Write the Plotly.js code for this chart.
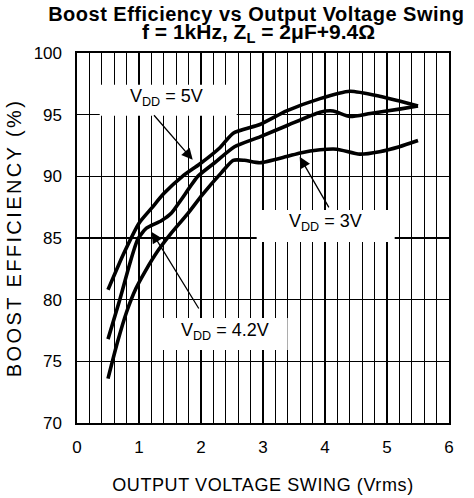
<!DOCTYPE html>
<html>
<head>
<meta charset="utf-8">
<script src="https://cdn.plot.ly/plotly-3.0.1.min.js"></script>
<style>
html,body{margin:0;padding:0;background:#fff;}
#chart .ytitle{letter-spacing:2.4px;}
#chart .xtitle{letter-spacing:0.6px;}
#chart .gtitle{letter-spacing:0.5px;}
</style>
</head>
<body>
<div id="chart" style="width:474px;height:498px;"></div>
<script>
// ---- data ----
const swing5V = [0.5, 0.75, 1.0, 1.2, 1.4, 1.7, 1.98, 2.3, 2.52, 2.95, 3.38, 3.92, 4.4, 4.88, 5.2, 5.5];
const eff5V   = [80.8, 83.7, 86.2, 87.4, 88.6, 90.0, 91.0, 92.3, 93.5, 94.2, 95.3, 96.3, 96.9, 96.5, 96.1, 95.7];

const swing42V = [0.5, 0.69, 0.85, 0.98, 1.12, 1.36, 1.52, 1.68, 1.95, 2.22, 2.54, 2.95, 3.38, 3.92, 4.13, 4.4, 4.73, 5.2, 5.5];
const eff42V   = [76.8, 80.0, 82.9, 84.9, 85.8, 86.4, 87.0, 88.1, 90.0, 91.1, 92.4, 93.2, 94.1, 95.2, 95.3, 94.85, 95.1, 95.45, 95.7];

const swing3V = [0.5, 0.65, 0.8, 0.95, 1.1, 1.31, 1.52, 1.79, 2.02, 2.33, 2.52, 2.7, 2.95, 3.38, 3.6, 3.92, 4.19, 4.56, 4.88, 5.2, 5.5];
const eff3V   = [73.6, 76.5, 79.0, 80.9, 82.3, 84.0, 85.4, 87.0, 88.5, 90.3, 91.3, 91.3, 91.1, 91.6, 91.9, 92.15, 92.2, 91.8, 92.0, 92.4, 92.9];

const xTickVals = [0, 1, 2, 3, 4, 5, 6];
const xTickText = ['0', '1', '2', '3', '4', '5', '6'];
const yTickVals = [70, 75, 80, 85, 90, 95, 100];
const yTickText = ['70', '75', '80', '85', '90', '95', '100'];

const seriesLabels = ['V<sub>DD</sub> = 5V', 'V<sub>DD</sub> = 4.2V', 'V<sub>DD</sub> = 3V'];

const titleLine1 = '<b>Boost Efficiency vs Output Voltage Swing</b>';
const titleLine2 = '<b>f = 1kHz, Z<sub>L</sub> = 2μF+9.4Ω</b>';
const xTitle = 'OUTPUT VOLTAGE SWING (Vrms)';
const yTitle = 'BOOST EFFICIENCY (%)';

// ---- chart ----
const FONT = 'Liberation Sans, Arial, Helvetica, sans-serif';
const lineStyle = {color: '#000', width: 3.6, shape: 'spline', smoothing: 0.6};

const traces = [
  {x: swing5V, y: eff5V, name: 'VDD = 5V'},
  {x: swing42V, y: eff42V, name: 'VDD = 4.2V'},
  {x: swing3V, y: eff3V, name: 'VDD = 3V'}
].map(t => Object.assign(t, {type: 'scatter', mode: 'lines', line: lineStyle, showlegend: false, hoverinfo: 'skip'}));

const whiteBox = (x0, x1, y0, y1) => ({
  type: 'rect', xref: 'x', yref: 'y', x0, x1, y0, y1,
  fillcolor: '#fff', line: {width: 0}, layer: 'above'
});

const label = (x, y, text) => ({
  x, y, xref: 'x', yref: 'y', text, showarrow: false,
  font: {family: FONT, size: 18, color: '#000'}, xanchor: 'center', yanchor: 'middle'
});

const arrow = (x, y, ax, ay) => ({
  x, y, ax, ay, xref: 'x', yref: 'y', axref: 'x', ayref: 'y', text: '',
  showarrow: true, arrowhead: 2, arrowsize: 1.7, arrowwidth: 1.3, arrowcolor: '#000',
  standoff: 0, startstandoff: 0
});

const layout = {
  width: 474, height: 498, autosize: false,
  margin: {l: 77, r: 25, t: 53, b: 75, pad: 0},
  paper_bgcolor: '#fff', plot_bgcolor: '#fff',
  font: {family: FONT, color: '#000'},
  title: {
    text: titleLine1, font: {family: FONT, size: 20, color: '#000'},
    xref: 'paper', x: 0.482, xanchor: 'center',
    yref: 'container', y: 0.972, yanchor: 'middle'
  },
  xaxis: {
    range: [0, 6], tickvals: xTickVals, ticktext: xTickText,
    showline: true, mirror: true, linecolor: '#000', linewidth: 1.6,
    showgrid: true, gridcolor: '#000', gridwidth: 1.2, zeroline: false,
    minor: {dtick: 0.2, tick0: 0, showgrid: true, gridcolor: '#000', gridwidth: 1.2, ticks: ''},
    ticks: '', ticklabelstandoff: 8,
    tickfont: {family: FONT, size: 17, color: '#000'},
    title: {text: xTitle, font: {family: FONT, size: 18, color: '#000'}, standoff: 22}
  },
  yaxis: {
    range: [70, 100], tickvals: yTickVals, ticktext: yTickText,
    showline: true, mirror: true, linecolor: '#000', linewidth: 1.6,
    showgrid: true, gridcolor: '#000', gridwidth: 1.2, zeroline: false,
    ticks: '', ticklabelstandoff: 10,
    tickfont: {family: FONT, size: 17, color: '#000'},
    title: {text: yTitle, font: {family: FONT, size: 20, color: '#000'}, standoff: 6}
  },
  shapes: [
    whiteBox(0.366, 2.576, 94.91, 97.43),
    whiteBox(2.898, 5.124, 84.68, 87.28),
    whiteBox(1.366, 3.398, 75.91, 78.51)
  ],
  annotations: [
    {x: 0.489, y: 1.0 + (53 - 33) / 370, xref: 'paper', yref: 'paper', text: titleLine2, showarrow: false,
     font: {family: FONT, size: 21, color: '#000'}, xanchor: 'center', yanchor: 'middle'},
    label(1.44, 96.37, seriesLabels[0]),
    label(4.01, 86.23, seriesLabels[2]),
    label(2.38, 77.38, seriesLabels[1]),
    arrow(1.866, 91.34, 1.221, 95.07),
    arrow(3.592, 91.58, 4.076, 87.36),
    arrow(1.205, 85.49, 1.979, 79.16)
  ]
};

Plotly.newPlot('chart', traces, layout, {staticPlot: true, displayModeBar: false});
</script>
</body>
</html>
